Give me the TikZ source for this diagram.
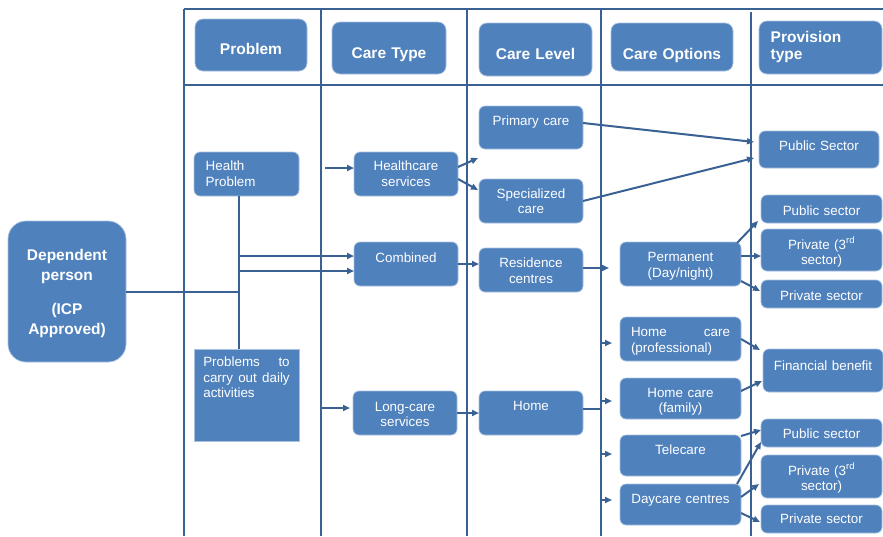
\documentclass[tikz,border=0pt]{standalone}
\usepackage{fontspec}
\setmainfont{Liberation Sans}
\usetikzlibrary{arrows.meta}
\definecolor{boxblue}{HTML}{4F81BD}
\definecolor{rimblue}{HTML}{A9C1DF}
\definecolor{lineblue}{HTML}{3A6194}
\tikzset{
  grid/.style={draw=lineblue, line width=2.3pt},
  ln/.style={draw=lineblue, line width=2pt},
  arr/.style={ln, -{Triangle[length=7pt,width=6pt]}},
  base/.style={anchor=north west, fill=boxblue, draw=rimblue, line width=0.7pt,
    text=white, inner xsep=3pt, inner ysep=0pt, outer sep=0pt, align=center},
  hdr/.style={base, rounded corners=8pt, font=\fontsize{15.5}{17}\selectfont\bfseries},
  bx/.style={base, rounded corners=6pt, font=\fontsize{13.4}{15.5}\selectfont},
}
\begin{document}
\begin{tikzpicture}[x=1pt, y=-1pt]
\useasboundingbox (0,0) rectangle (883,536);

% column guides
\coordinate (c1) at (184,0);
\coordinate (c2) at (321,0);
\coordinate (c3) at (467,0);
\coordinate (c4) at (601,0);
\coordinate (c5) at (751,0);
\coordinate (trunk) at (239,0);

% table frame
\draw[grid] (184,9) -- (883,9);
\draw[grid] (184,85) -- (883,85);
\draw[grid] (184,9) -- (184,536);
\draw[grid] (321,9) -- (321,536);
\draw[grid] (467,9) -- (467,536);
\draw[grid] (601,9) -- (601,536);
\draw[grid] (751,12) -- (751,536);

% column headers
\node[hdr, minimum width=112pt, minimum height=52pt, text width=106pt, text height=35pt, text depth=17pt] (hProb) at (195,19) {Problem};
\node[hdr, minimum width=114pt, minimum height=52pt, text width=108pt, text height=36.3pt, text depth=15.7pt] (hType) at (332,22) {Care Type};
\node[hdr, minimum width=113pt, minimum height=53pt, text width=107pt, text height=36.3pt, text depth=16.7pt] (hLevel) at (479,23) {Care Level};
\node[hdr, minimum width=122pt, minimum height=48pt, text width=116pt, text height=36.3pt, text depth=11.7pt] (hOpt) at (611,23) {Care Options};
\node[hdr, minimum width=123pt, minimum height=53pt, text width=99.6pt, align=left, text height=21pt, text depth=32pt] (hProv) at (759,21) {Provision\\type};

% person
\node[bx, rounded corners=18pt, font=\fontsize{15.5}{20.5}\selectfont\bfseries, minimum width=118pt, minimum height=141pt, text width=112pt, text height=39pt, text depth=102pt] (dp) at (8,221) {Dependent\\person\\[13pt](ICP\\Approved)};

% problems
\node[bx, minimum width=105pt, minimum height=44pt, text width=81.6pt, align=left, text height=18.7pt, text depth=25.3pt] (hp) at (194,152) {Health\\Problem};
\node[bx, rounded corners=0pt, minimum width=105pt, minimum height=92pt, text width=86.4pt, align=left, text height=17.7pt, text depth=74.3pt] (pd) at (194,349) {\makebox[86.4pt][l]{Problems\hfill to}\\\makebox[86.4pt][l]{carry\hfill out\hfill daily}\\activities};

% care types
\node[bx, minimum width=104pt, minimum height=44pt, text width=98pt, text height=18.7pt, text depth=25.3pt] (hs) at (354,152) {Healthcare\\services};
\node[bx, minimum width=104pt, minimum height=44pt, text width=98pt, text height=20.7pt, text depth=23.3pt] (cb) at (354,242) {Combined};
\node[bx, minimum width=104pt, minimum height=44pt, text width=98pt, text height=20pt, text depth=24pt] (lc) at (353,391) {Long-care\\services};

% care levels
\node[bx, minimum width=104pt, minimum height=43pt, text width=98pt, text height=19pt, text depth=24pt] (pc) at (479,106) {Primary care};
\node[bx, minimum width=104pt, minimum height=44pt, text width=98pt, text height=19pt, text depth=25pt] (sc) at (479,179) {Specialized\\care};
\node[bx, minimum width=104pt, minimum height=44pt, text width=98pt, text height=19.5pt, text depth=24.5pt] (rc) at (479,248) {Residence\\centres};
\node[bx, minimum width=104pt, minimum height=44pt, text width=98pt, text height=19.7pt, text depth=24.3pt] (hm) at (479,391) {Home};

% care options
\node[bx, minimum width=121pt, minimum height=44pt, text width=115pt, text height=19.7pt, text depth=24.3pt] (pm) at (620,242) {Permanent\\(Day/night)};
\node[bx, minimum width=121pt, minimum height=44pt, text width=99pt, align=left, text height=19.7pt, text depth=24.3pt] (hcp) at (620,317) {\makebox[99pt][l]{Home\hfill care}\\(professional)};
\node[bx, minimum width=121pt, minimum height=41pt, text width=115pt, text height=19.3pt, text depth=21.7pt] (hcf) at (620,378) {Home care\\(family)};
\node[bx, minimum width=121pt, minimum height=41pt, text width=115pt, text height=19.3pt, text depth=21.7pt] (tc) at (620,435) {Telecare};
\node[bx, minimum width=121pt, minimum height=41pt, text width=115pt, text height=19pt, text depth=22pt] (dc) at (620,484) {Daycare centres};

% provision types
\node[bx, minimum width=120pt, minimum height=37pt, text width=114pt, text height=19.7pt, text depth=17.3pt] (ps1) at (759,131) {Public Sector};
\node[bx, minimum width=121pt, minimum height=28pt, text width=115pt, text height=20pt, text depth=8pt] (pua) at (761,195) {Public sector};
\node[bx, minimum width=121pt, minimum height=42pt, text width=115pt, text height=20pt, text depth=22pt] (p3a) at (761,229) {Private (3\textsuperscript{rd}\\sector)};
\node[bx, minimum width=121pt, minimum height=28pt, text width=115pt, text height=20pt, text depth=8pt] (psa) at (761,280) {Private sector};
\node[bx, minimum width=120pt, minimum height=43pt, text width=114pt, text height=21pt, text depth=22pt] (fb) at (763,349) {Financial benefit};
\node[bx, minimum width=121pt, minimum height=28pt, text width=115pt, text height=19.3pt, text depth=8.7pt] (pub) at (761,419) {Public sector};
\node[bx, minimum width=121pt, minimum height=43pt, text width=115pt, text height=20pt, text depth=23pt] (p3b) at (761,455) {Private (3\textsuperscript{rd}\\sector)};
\node[bx, minimum width=121pt, minimum height=28pt, text width=115pt, text height=18pt, text depth=10pt] (psb) at (761,505) {Private sector};

% problem trunk
\draw[ln] (hp.south -| trunk) -- (pd.north -| trunk);
\draw[ln] (dp.east) -- (dp.east -| trunk);
\draw[arr] ([yshift=8pt]cb.west -| trunk) -- ([yshift=8pt]cb.west);
\draw[arr] ([yshift=-7pt]cb.west -| trunk) -- ([yshift=-7pt]cb.west);
\draw[arr] ([xshift=-29pt,yshift=6pt]hs.west) -- ([yshift=6pt]hs.west);
\draw[arr] ([yshift=5pt]lc.west -| c2) -- ([xshift=-3pt,yshift=5pt]lc.west);

% care type to care level
\draw[arr] ([yshift=7pt]hs.east) -- ([xshift=-1pt,yshift=-9pt]pc.south west);
\draw[arr] ([yshift=-5pt]hs.east) -- ([xshift=-1pt,yshift=11pt]sc.west);
\draw[arr] (cb.east) -- (cb.east -| rc.west);
\draw[arr] (lc.east) -- (lc.east -| hm.west);

% care level onwards
\draw[arr] ([yshift=4.5pt]pc.east) -- ([xshift=-5pt,yshift=7.5pt]ps1.west);
\draw[arr] (sc.east) -- ([xshift=-5pt,yshift=-8.5pt]ps1.west);
\draw[arr] ([yshift=2pt]rc.east) -- ([xshift=-11pt,yshift=2pt]rc.east -| pm.west);
\draw[ln] ([yshift=4pt]hm.east) -- ([yshift=4pt]hm.east -| c4);
\draw[arr] ([yshift=-4pt]hcp.west -| c4) -- ([xshift=-8pt,yshift=-4pt]hcp.west);
\draw[arr] ([yshift=-2.5pt]hcf.west -| c4) -- ([xshift=-8pt,yshift=-2.5pt]hcf.west);
\draw[arr] ([yshift=1.5pt]tc.west -| c4) -- ([xshift=-8pt,yshift=1.5pt]tc.west);
\draw[arr] ([yshift=4.5pt]dc.west -| c4) -- ([xshift=-8pt,yshift=4.5pt]dc.west);

% care options to provision
\draw[arr] ([xshift=-4pt,yshift=-1pt]pm.north east) -- ([xshift=-3pt,yshift=2pt]pua.south west);
\draw[arr] ([yshift=8pt]pm.east) -- ([yshift=8pt]pm.east -| p3a.west);
\draw[arr] ([yshift=-17pt]pm.east) -- ([xshift=-1pt,yshift=3pt]psa.west);
\draw[arr] (hcp.east) -- ([xshift=-3pt,yshift=-1pt]fb.north west);
\draw[arr] ([yshift=7.5pt]hcf.east) -- ([xshift=-1pt,yshift=-10.5pt]fb.west);
\draw[arr] ([yshift=-1pt]tc.north east) -- ([yshift=3pt]pub.west);
\draw[arr] ([xshift=-4pt]dc.north east) -- ([yshift=-9pt]pub.west);
\draw[arr] ([yshift=7.5pt]dc.east) -- ([xshift=-2pt,yshift=-7.5pt]p3b.west);
\draw[arr] ([yshift=-8.5pt]dc.east) -- ([xshift=-1pt,yshift=-3pt]psb.west);
\end{tikzpicture}
\end{document}
